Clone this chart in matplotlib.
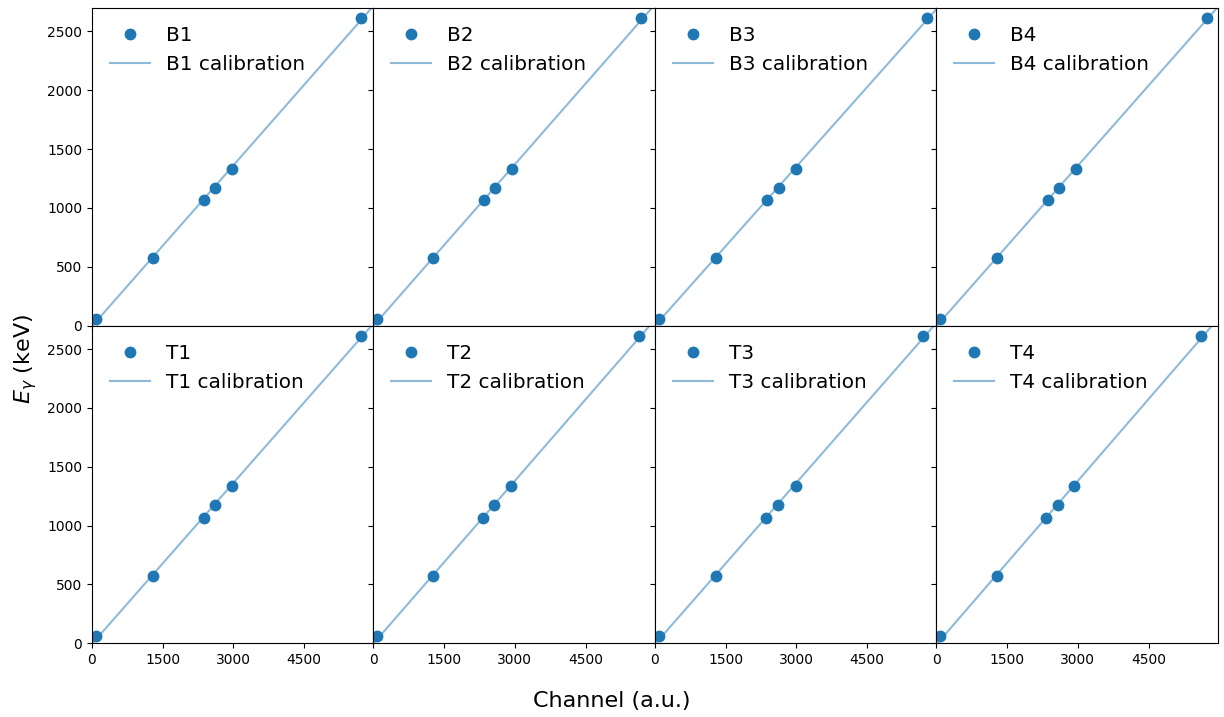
import numpy as np
import matplotlib.pyplot as plt
from matplotlib.ticker import MultipleLocator

# Gamma-line energies (keV)
energies = [59.5, 569.7, 1063.7, 1173.2, 1332.5, 2614.5]

detectors = ["B1", "B2", "B3", "B4", "T1", "T2", "T3", "T4"]

# Peak channels
channels = {
    "B1": [85, 1294, 2376, 2610, 2970, 5707],
    "B2": [85, 1273, 2355, 2588, 2949, 5686],
    "B3": [85, 1294, 2376, 2631, 2992, 5771],
    "B4": [85, 1294, 2376, 2610, 2970, 5729],
    "T1": [85, 1294, 2376, 2610, 2970, 5707],
    "T2": [85, 1273, 2334, 2567, 2928, 5644],
    "T3": [85, 1294, 2355, 2610, 2992, 5686],
    "T4": [85, 1294, 2334, 2588, 2928, 5622],
}

xmax = 5970
ymax = 2700

fig, axes = plt.subplots(2, 4, figsize=(12.24, 7.17), dpi=100,
                         sharex=True, sharey=True)
fig.subplots_adjust(left=0.075, right=0.995, top=0.989, bottom=0.103,
                    wspace=0, hspace=0)

for ax, det in zip(axes.flat, detectors):
    ch = np.array(channels[det])
    slope, icpt = np.polyfit(ch, energies, 1)
    xx = np.linspace(0, xmax, 100)
    ax.plot(ch, energies, 'o', color='tab:blue', markersize=7.5, label=det)
    ax.plot(xx, slope * xx + icpt, color='tab:blue', alpha=0.5,
            label=f"{det} calibration")
    ax.legend(loc='upper left', frameon=False, fontsize=14.4)
    ax.set_xlim(0, xmax)
    ax.set_ylim(0, ymax)
    ax.xaxis.set_major_locator(MultipleLocator(1500))

fig.supxlabel("Channel (a.u.)", fontsize=16, y=0.008)
fig.supylabel(r"$E_\gamma$ (keV)", fontsize=16, x=0.01)

plt.savefig("out.png", dpi=100)
